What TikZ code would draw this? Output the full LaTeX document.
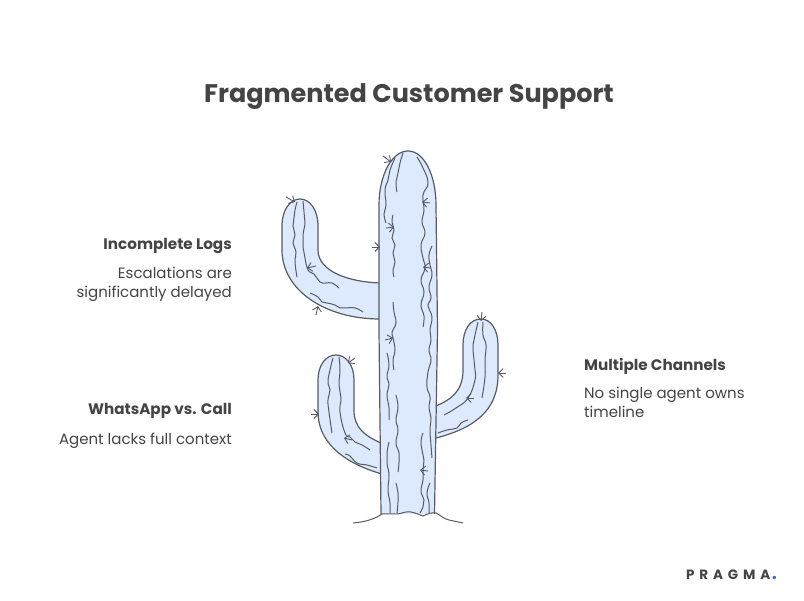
\documentclass[tikz,border=0pt]{standalone}
\usepackage{fontspec}
\setmainfont{Poppins}
\usepackage{tikz}
\usetikzlibrary{arrows.meta,positioning}
\definecolor{inkgrey}{HTML}{444444}
\definecolor{linegrey}{HTML}{565C64}
\definecolor{cactusblue}{HTML}{DDE9FD}
\definecolor{dotblue}{HTML}{3B6FD4}
\tikzstyle{heading}=[text=inkgrey,font=\fontsize{15.2}{18}\selectfont\bfseries,inner sep=0pt]
\tikzstyle{body}=[text=inkgrey,font=\fontsize{15}{18.5}\selectfont,inner sep=0pt,align=left]
\tikzstyle{outline}=[draw=linegrey,fill=cactusblue,line width=1.2pt]
\tikzstyle{crease}=[draw=linegrey,line width=1pt]
\tikzstyle{thorn}=[draw=linegrey,line width=0.9pt,-{Straight Barb[length=4.5pt,width=9pt]}]

\begin{document}
\begin{tikzpicture}[x=1pt,y=-1pt]
\useasboundingbox (0,0) rectangle (804,601);
% labels
\node [text=inkgrey,font=\fontsize{25.5}{30}\selectfont\bfseries,inner sep=0pt] (title) at (409,97) {Fragmented Customer Support};
\node [heading,anchor=east] (logshead) at (232,246) {Incomplete Logs};
\node [body,anchor=north east,align=right] (logsbody) at (232,267) {Escalations are\\significantly delayed};
\node [heading,anchor=east] (callhead) at (232,411) {WhatsApp vs. Call};
\node [body,anchor=east] (callbody) at (232,441) {Agent lacks full context};
\node [heading,anchor=west] (chanhead) at (584,366) {Multiple Channels};
\node [body,anchor=north west] (chanbody) at (584,387) {No single agent owns\\timeline};
\node [text=inkgrey,font=\fontsize{13.5}{15}\selectfont\bfseries\addfontfeatures{LetterSpace=36},inner sep=0pt,anchor=west] (logo) at (686,575) {PRAGMA\kern1.5pt\textcolor{dotblue}{\fontsize{18}{15}\selectfont.}};
% arms
\draw [outline] (380,283) .. controls (350,282) and (318,272) .. (318,250) -- (318,226)
  .. controls (318,210) and (310,199) .. (300,199) .. controls (290,199) and (282,210) .. (282,226)
  -- (282,250) .. controls (282,290) and (325,319) .. (380,319);
\draw [outline] (381,443) .. controls (365,436) and (354,428) .. (354,410) -- (354,380)
  .. controls (354,365) and (346,355) .. (336,355) .. controls (326,355) and (318,365) .. (318,380)
  -- (318,412) .. controls (318,440) and (340,462) .. (382,474);
\draw [outline] (436,406) .. controls (450,400) and (463,392) .. (463,370) -- (463,345)
  .. controls (463,330) and (470,319) .. (481,319) .. controls (491,319) and (498,330) .. (498,345)
  -- (498,375) .. controls (498,410) and (475,428) .. (436,438);
% trunk
\draw [outline] (381,514) -- (379,330) -- (379,205) .. controls (379,175) and (392,151) .. (408,151)
  .. controls (424,151) and (436,175) .. (436,205) -- (437.5,330) -- (434.5,514);
% creases, trunk
\foreach \creaseline in {
  {(395,158) (390,170) (388,180) (385,190) (386,205) (384,214) (386,223)},
  {(403,153) (400,163) (398,173) (396,182) (397,192)},
  {(393,215) (392,222) (394,230) (392,238) (395,245) (393,253) (395,262) (393,270) (394,277)},
  {(417,157) (423,168) (428,183) (423,195) (424,210) (422,222) (425,233) (421,245) (423,258) (425,268) (421,280) (424,292) (421,305) (424,316) (423,327)},
  {(432,246) (429,255) (430,265) (432,275) (429,287) (431,298) (428,306) (432,317) (430,330) (431,340) (429,350) (431,360) (428,372) (427,387) (430,397) (429,408) (431,418) (430,430) (431,445) (432,458)},
  {(393,302) (394,312) (396,323) (392,332) (393,338) (395,350) (393,360) (394,370)},
  {(387,353) (389,365) (387,376) (389,385) (387,395) (389,408) (389,420)},
  {(396,395) (398,407) (396,420) (398,430) (396,443) (399,453) (399,463) (398,472)},
  {(389,442) (387,453) (387,463) (389,475) (388,490) (390,503) (390,513)},
  {(396,483) (398,493) (398,502) (397,513)},
  {(423,433) (421,441) (422,450) (424,460) (423,470) (423,480) (421,491) (424,500) (423,507) (420,513)},
  {(430,483) (427,493) (429,503) (429,513)},
  {(297,202) (295,210) (294,218) (293,226) (295,235) (293,243) (296,252) (295,262) (297,277)},
  {(303,201) (304,212) (305,223) (303,235) (303,247) (305,258) (308,270) (314,274) (320,282) (326,283) (332,283) (339,288)},
  {(310,293) (318,297) (322,302) (327,303) (335,305) (340,308) (345,308) (355,308) (363,312)},
  {(333,358) (330,370) (328,382) (330,390) (328,400) (329,412) (332,433)},
  {(339,357) (340,370) (339,385) (341,398) (340,412) (345,433) (350,437) (355,442) (362,445) (370,450)},
  {(345,454) (350,456) (357,463) (367,465) (377,468)},
  {(478,322) (475,335) (473,345) (474,360) (475,370) (475,380) (468,398) (456,408) (444,415)},
  {(483,322) (483,335) (486,345) (485,360) (485,377) (482,398)},
  {(468,420) (461,423) (457,428) (447,430) (438,433)}}
  \draw [crease] plot [smooth,tension=0.8] coordinates \creaseline;
% thorns
\foreach \tailx/\taily/\tipx/\tipy in {
  286/197/295/202, 316/266/307/268, 316/315/318/306, 372/247/380/247,
  383/156/391/162, 386/228/394/227, 430/203/422/202, 431/268/423/267,
  385/340/393/338, 428/471/420/470, 474/398/466/398, 506/373/498/373,
  482/312/481/321, 355/358/348/363, 311/414/319/414, 352/440/344/438}
  \draw [thorn] (\tailx,\taily) -- (\tipx,\tipy);
% ground
\draw [draw=linegrey,line width=1pt] (353,523) .. controls (365,522) and (375,519) .. (382,514)
  -- (398,514) .. controls (403,513) and (407,511) .. (411,512) .. controls (416,513) and (420,515) .. (423,516)
  .. controls (427,514) and (432,512) .. (436,513) .. controls (440,515) and (444,519) .. (449,520) -- (463,523);
\end{tikzpicture}
\end{document}
